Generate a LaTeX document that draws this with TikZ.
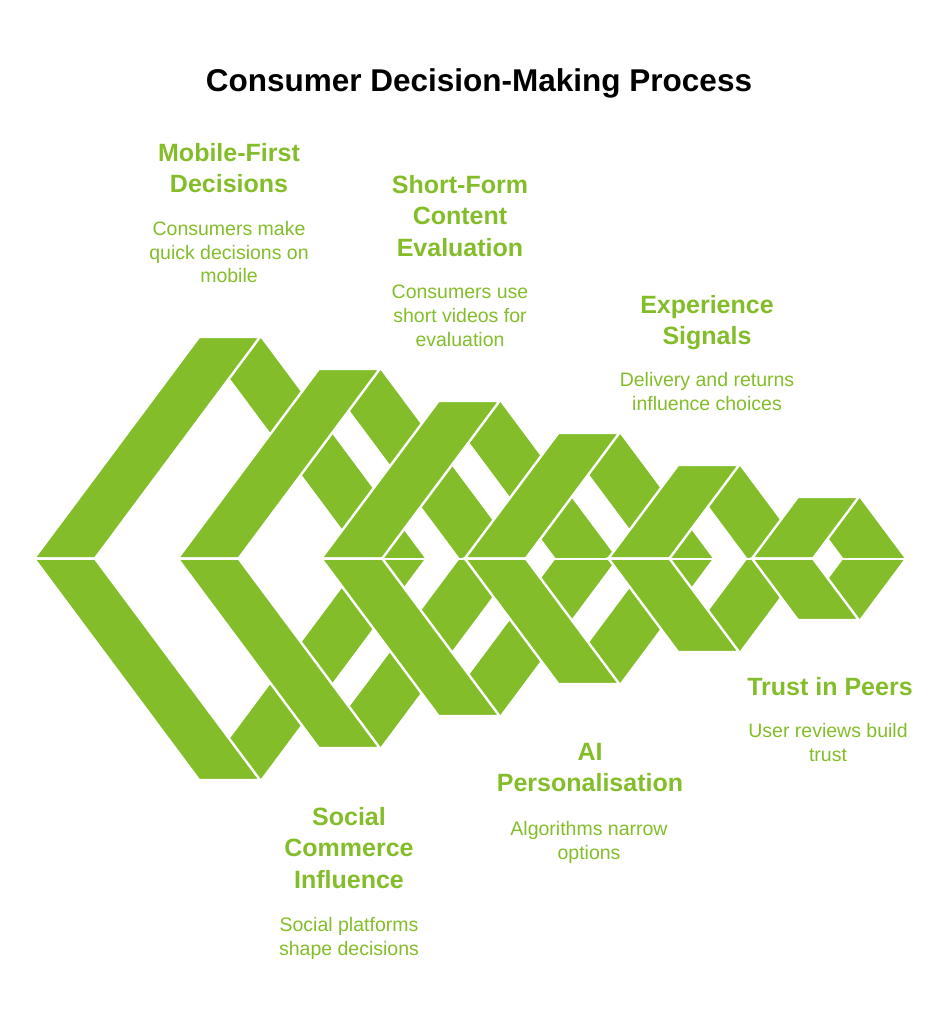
\documentclass[tikz,border=0pt]{standalone}
\usepackage{fontspec}
\setmainfont{Liberation Sans}
\usepackage{xcolor}
\usepackage{tikz}
\usetikzlibrary{positioning}
\definecolor{LeafGreen}{HTML}{83BD29}
\definecolor{InkBlack}{HTML}{000000}

\tikzset{
  backband/.style={fill=LeafGreen},
  frontband/.style={fill=LeafGreen,draw=white,line width=2.4pt,line join=miter},
  titletext/.style={font=\bfseries\fontsize{31.5}{38}\selectfont,text=InkBlack,inner sep=0pt},
  headtext/.style={font=\bfseries\fontsize{25}{31.5}\selectfont,text=LeafGreen,align=center,inner sep=0pt,anchor=north},
  desctext/.style={font=\fontsize{19.5}{23.7}\selectfont,text=LeafGreen,align=center,inner sep=0pt,anchor=north},
}

\begin{document}
\begin{tikzpicture}[x=1pt,y=-1pt]
  \useasboundingbox (0,0) rectangle (949,1024);
  \def\yc{558.5}
  \def\kk{0.745}
  \def\ww{61}
  % bands running back to the right tip
  \foreach \i in {0,...,5}{
    \pgfmathsetmacro\L{34+143.6*\i}
    \pgfmathsetmacro\h{221.5-32*\i}
    \foreach \s in {1,-1}{
      \pgfmathsetmacro\yt{\yc-(\s)*\h}
      \fill[backband] (\L+\kk*\h,\yt) -- ++(\ww,0) -- (\L+2*\kk*\h+\ww,\yc)
        -- (\L+2*\kk*\h,\yc) -- cycle;
    }
  }
  % front bands from the left tip
  \foreach \i in {0,...,5}{
    \pgfmathsetmacro\L{34+143.6*\i}
    \pgfmathsetmacro\h{221.5-32*\i}
    \foreach \s in {1,-1}{
      \pgfmathsetmacro\yt{\yc-(\s)*\h}
      \filldraw[frontband] (\L,\yc) -- (\L+\kk*\h,\yt) -- ++(\ww,0)
        -- (\L+\ww,\yc) -- cycle;
    }
  }
  \draw[white,line width=2pt] (20,\yc) -- (930,\yc);

  \node[titletext] (title) at (479,83) {Consumer Decision-Making Process};

  \node[headtext] (mobileH) at (229,143) {Mobile-First\\Decisions};
  \node[desctext] (mobileD) at (229,221) {Consumers make\\quick decisions on\\mobile};

  \node[headtext] (shortH) at (460,175) {Short-Form\\Content\\Evaluation};
  \node[desctext] (shortD) at (460,285) {Consumers use\\short videos for\\evaluation};

  \node[headtext] (expH) at (707,295) {Experience\\Signals};
  \node[desctext] (expD) at (707,372) {Delivery and returns\\influence choices};

  \node[headtext] (trustH) at (830,677) {Trust in Peers};
  \node[desctext] (trustD) at (828,723) {User reviews build\\trust};

  \node[headtext] (aiH) at (590,743) {AI\\Personalisation};
  \node[desctext] (aiD) at (589,821) {Algorithms narrow\\options};

  \node[headtext] (socialH) at (349,807) {Social\\Commerce\\Influence};
  \node[desctext] (socialD) at (349,917) {Social platforms\\shape decisions};
\end{tikzpicture}
\end{document}
